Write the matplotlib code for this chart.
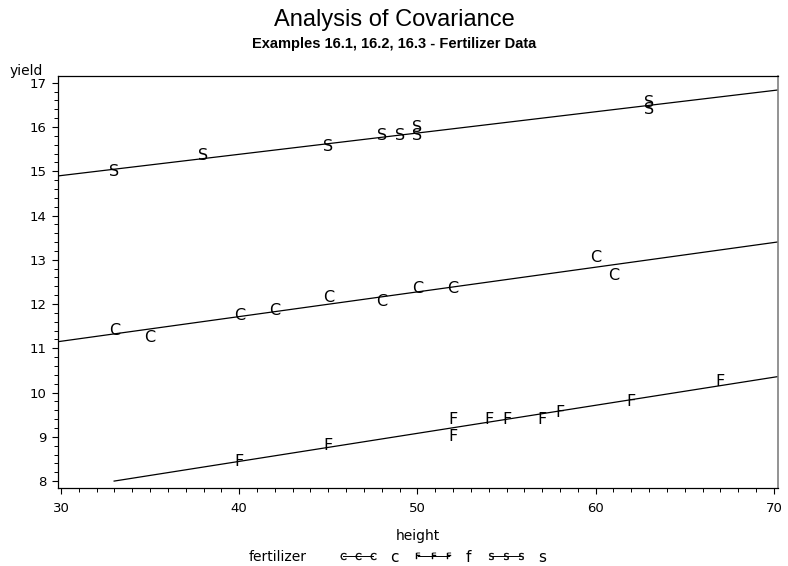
import matplotlib

matplotlib.use("Agg")
import matplotlib.pyplot as plt
import numpy as np
from matplotlib import font_manager
from matplotlib.lines import Line2D
from matplotlib.ticker import MultipleLocator

# fertilizer groups: height (x) and yield (y)
groups = ["c", "f", "s"]
c_height = [33, 35, 40, 42, 45, 48, 50, 52, 60, 61]
c_yield = [11.4, 11.25, 11.75, 11.85, 12.15, 12.05, 12.35, 12.35, 13.05, 12.65]
f_height = [40, 45, 52, 52, 54, 55, 57, 58, 62, 67]
f_yield = [8.45, 8.8, 9.4, 9.0, 9.4, 9.4, 9.4, 9.55, 9.8, 10.25]
s_height = [33, 38, 45, 48, 49, 50, 50, 63, 63]
s_yield = [15.0, 15.35, 15.55, 15.8, 15.8, 15.8, 16.0, 16.55, 16.4]

x_ticks = [30, 40, 50, 60, 70]
y_ticks = [8, 9, 10, 11, 12, 13, 14, 15, 16, 17]


def pick_font(*names):
    have = {f.name for f in font_manager.fontManager.ttflist}
    for name in names:
        if name in have:
            return name
    return "DejaVu Sans"


narrow = pick_font("Liberation Sans Narrow", "DejaVu Sans Condensed", "Liberation Sans")

fig = plt.figure(figsize=(7.88, 5.66), dpi=100)
ax = fig.add_axes([0.074, 0.1383, 0.913, 0.7280])

xlo, xhi = 29.85, 70.22
ylo, yhi = 7.85, 17.16
ax.set_xlim(xlo, xhi)
ax.set_ylim(ylo, yhi)

data = {
    "c": (c_height, c_yield),
    "f": (f_height, f_yield),
    "s": (s_height, s_yield),
}

for g in groups:
    hx, hy = data[g]
    for x, y in zip(hx, hy):
        ax.text(x, y, g.upper(), ha="center", va="center", fontsize=11.5,
                family="DejaVu Sans", color="black")
    # separate straight-line fit per fertilizer, clipped at the axis minimum of 8
    m, b = np.polyfit(hx, hy, 1)
    x0 = max(xlo, (y_ticks[0] - b) / m)
    xs = np.array([x0, xhi])
    ax.plot(xs, m * xs + b, color="black", lw=0.9)

ax.set_xticks(x_ticks)
ax.set_yticks(y_ticks)
ax.xaxis.set_minor_locator(MultipleLocator(1))
ax.yaxis.set_minor_locator(MultipleLocator(0.2))
ax.tick_params(which="major", direction="out", length=4.5, width=0.8, labelsize=9.5, colors="black")
ax.tick_params(which="minor", direction="out", length=3, width=0.7)
ax.tick_params(axis="x", pad=6)
ax.tick_params(axis="y", pad=4)
for side in ["left", "bottom", "top"]:
    ax.spines[side].set_linewidth(0.9)
ax.spines["right"].set_color("#808080")
ax.spines["right"].set_linewidth(1.2)

ax.set_xlabel("height", fontsize=10, labelpad=10)
fig.text(10 / 788, 1 - 71 / 566, "yield", ha="left", va="center", fontsize=10)

fig.text(0.5, 1 - 20 / 566, "Analysis of Covariance", ha="center", va="center",
         fontsize=17, family=narrow)
fig.text(0.5, 1 - 44 / 566, "Examples 16.1, 16.2, 16.3 - Fertilizer Data", ha="center",
         va="center", fontsize=10.5, fontweight="bold", family=narrow)

fig.text(278 / 788, 1 - 557 / 566, "fertilizer", ha="center", va="center", fontsize=10)
handles = [
    Line2D([], [], color="black", lw=0.7, marker=r"$\mathsf{%s}$" % g.upper(),
           markersize=5, markeredgewidth=0.3)
    for g in groups
]
ax.legend(handles, groups, loc="center left", bbox_to_anchor=(338 / 788, 1 - 557 / 566),
          bbox_transform=fig.transFigure, ncol=3, frameon=False, numpoints=3,
          fontsize=11, handlelength=2.6, handletextpad=0.8, columnspacing=1.0,
          borderpad=0, borderaxespad=0)

fig.savefig("out.png", dpi=100)
